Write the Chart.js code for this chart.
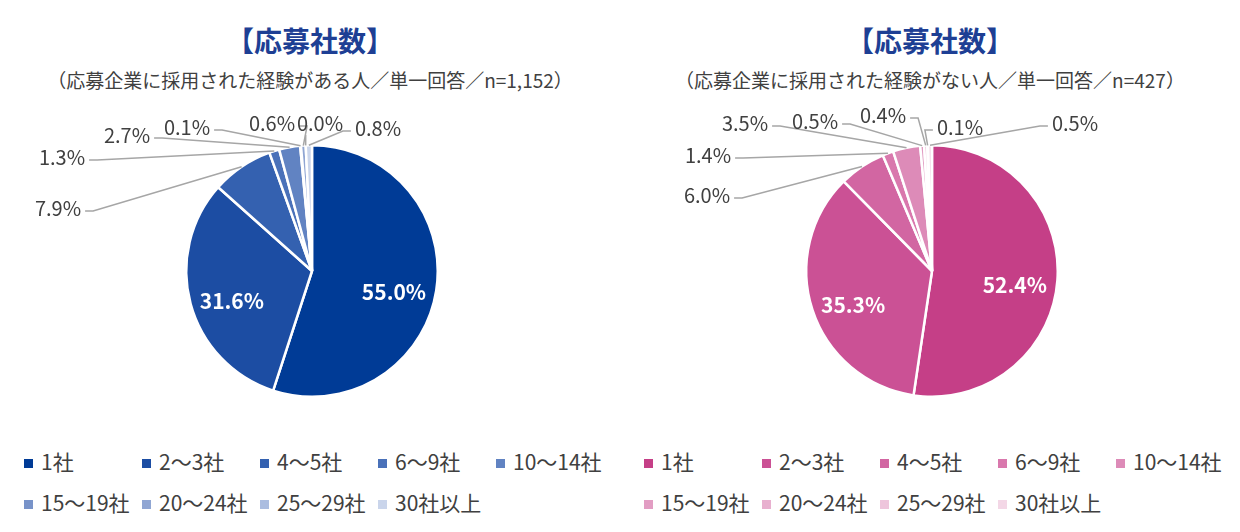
<!DOCTYPE html>
<html lang="ja">
<head>
<meta charset="utf-8">
<script src="https://cdn.jsdelivr.net/npm/chart.js@4/dist/chart.umd.min.js"></script>
<style>
  body { margin: 0; background: #fff; font-family: "Noto Sans CJK JP", "Noto Sans", sans-serif; }
  #page { position: relative; width: 1240px; height: 532px; overflow: hidden; }
  .panel { position: absolute; top: 0; width: 620px; height: 532px; }
  .title { position: absolute; left: 0; width: 620px; top: 22px; text-align: center;
           font-size: 28px; font-weight: bold; color: #1e3f94; line-height: 36px; }
  .sub { position: absolute; left: 0; width: 620px; top: 67px; text-align: center;
         font-size: 19px; color: #404040; line-height: 26px; }
  canvas { position: absolute; left: 0; top: 100px; }
  .lg { position: absolute; font-size: 21px; color: #404040; line-height: 28px; white-space: nowrap; }
  .lg i { display: inline-block; width: 9px; height: 9px; margin-right: 8px; vertical-align: 2px; }
</style>
</head>
<body>
<div id="page">
  <div class="panel" id="p1" style="left:0">
    <div class="title">【応募社数】</div>
    <div class="sub">（応募企業に採用された経験がある人／単一回答／n=1,152）</div>
    <canvas id="pieA" width="620" height="340"></canvas>
  </div>
  <div class="panel" id="p2" style="left:620px">
    <div class="title">【応募社数】</div>
    <div class="sub">（応募企業に採用された経験がない人／単一回答／n=427）</div>
    <canvas id="pieB" width="620" height="340"></canvas>
  </div>
</div>
<script>
// データ
const categories = ['1社', '2～3社', '4～5社', '6～9社', '10～14社', '15～19社', '20～24社', '25～29社', '30社以上'];
const valuesHired = [55.0, 31.6, 7.9, 1.3, 2.7, 0.1, 0.6, 0.0, 0.8];
const valuesNotHired = [52.4, 35.3, 6.0, 1.4, 3.5, 0.5, 0.4, 0.1, 0.5];

const blues = ['#003b96', '#1c4da3', '#3461b0', '#4a71b9', '#6183c2', '#7893c9', '#90a6d3', '#abbde0', '#cad5eb'];
const pinks = ['#c53f87', '#cb5195', '#d266a2', '#d978ad', '#dd8bb8', '#e29dc3', '#e8b0cf', '#eec5dc', '#f3d7e6'];

// ラベル位置（円の中心からのオフセット、null は円内）
const labelPosA = [null, null, [-254, -63], [-250, -114], [-185, -136], [-125, -144], [-40, -148], [8, -148], [66, -143]];
const labelPosB = [null, null, [-225, -76], [-224, -116], [-187, -148], [-117, -150], [-49, -156], [28, -144], [143, -148]];

const labelPlugin = {
    id: 'pctLabels',
    afterDatasetsDraw(chart, args, opts) {
        const ctx = chart.ctx;
        const meta = chart.getDatasetMeta(0);
        const vals = chart.data.datasets[0].data;
        ctx.save();
        meta.data.forEach((arc, i) => {
            const { x, y, startAngle, endAngle, outerRadius } = arc.getProps(['x', 'y', 'startAngle', 'endAngle', 'outerRadius'], true);
            const mid = (startAngle + endAngle) / 2;
            const txt = vals[i].toFixed(1) + '%';
            const pos = opts.positions[i];
            if (!pos) {
                ctx.font = 'bold 21px "Noto Sans CJK JP"';
                ctx.fillStyle = '#fff';
                ctx.textAlign = 'center';
                ctx.textBaseline = 'middle';
                ctx.fillText(txt, x + Math.cos(mid) * outerRadius * 0.66, y + Math.sin(mid) * outerRadius * 0.66 + 8);
                return;
            }
            const px = x + Math.cos(mid) * outerRadius;
            const py = y + Math.sin(mid) * outerRadius;
            const lx = x + pos[0], ly = y + pos[1];
            ctx.font = '20px "Noto Sans CJK JP"';
            const w = ctx.measureText(txt).width;
            const left = lx - w / 2, right = lx + w / 2;
            ctx.strokeStyle = '#a6a6a6';
            ctx.lineWidth = 1.5;
            ctx.beginPath();
            if (px > right + 6) {
                ctx.moveTo(right + 4, ly + 3);
                ctx.lineTo(right + 12, ly + 3);
            } else if (px < left - 6) {
                ctx.moveTo(left - 4, ly + 3);
                ctx.lineTo(left - 12, ly + 3);
            } else {
                ctx.moveTo(px, ly + 12);
            }
            ctx.lineTo(px, py);
            ctx.stroke();
            ctx.fillStyle = '#404040';
            ctx.textAlign = 'center';
            ctx.textBaseline = 'middle';
            ctx.fillText(txt, lx, ly);
        });
        ctx.restore();
    }
};

function setupPie(canvasId, values, colors, positions) {
    const ctx = document.getElementById(canvasId)?.getContext('2d');
    if (!ctx) return;
    new Chart(ctx, {
        type: 'pie',
        data: {
            labels: categories,
            datasets: [{ data: values, backgroundColor: colors, borderColor: '#fff', borderWidth: 2.5 }]
        },
        options: {
            responsive: false,
            animation: false,
            layout: { padding: { top: 44, bottom: 42, left: 185, right: 181 } },
            plugins: {
                legend: { display: false },
                tooltip: { enabled: false },
                pctLabels: { positions }
            }
        },
        plugins: [labelPlugin]
    });
}

function buildLegend(panelId, colors) {
    const panel = document.getElementById(panelId);
    categories.forEach((c, i) => {
        const el = document.createElement('div');
        el.className = 'lg';
        el.style.left = (24 + (i % 5) * 118) + 'px';
        el.style.top = (447 + Math.floor(i / 5) * 41) + 'px';
        el.innerHTML = '<i style="background:' + colors[i] + '"></i>' + c;
        panel.appendChild(el);
    });
}

setupPie('pieA', valuesHired, blues, labelPosA);
setupPie('pieB', valuesNotHired, pinks, labelPosB);
buildLegend('p1', blues);
buildLegend('p2', pinks);
</script>
</body>
</html>
